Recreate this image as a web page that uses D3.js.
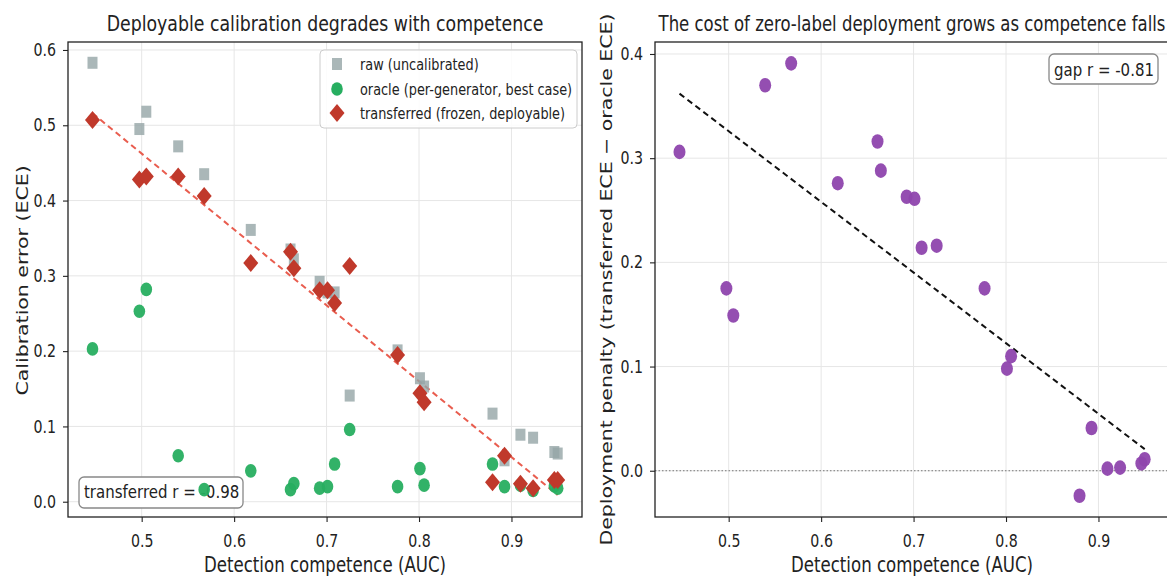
<!DOCTYPE html>
<html>
<head>
<meta charset="utf-8">
<script src="https://cdn.jsdelivr.net/npm/d3@7"></script>
<style>
  body { margin: 0; background: #fff; }
  svg { display: block; }
  text { font-family: "DejaVu Sans", sans-serif; fill: #222; }
</style>
</head>
<body>
<svg id="chart" width="1167" height="576"></svg>
<script>
"use strict";

// detection competence (AUC) per generator
const auc = [0.4468, 0.4975, 0.505, 0.5395, 0.5676, 0.618, 0.661, 0.6646, 0.6925, 0.701, 0.7087,
  0.725, 0.7768, 0.801, 0.8055, 0.8795, 0.8925, 0.9097, 0.9234, 0.9464, 0.950];
const rawEce = [0.583, 0.495, 0.518, 0.472, 0.435, 0.361, 0.335, 0.322, 0.292, 0.278, 0.278,
  0.141, 0.201, 0.164, 0.153, 0.117, 0.055, 0.089, 0.085, 0.066, 0.064];
const oracleEce = [0.203, 0.253, 0.282, 0.061, 0.016, 0.041, 0.016, 0.024, 0.018, 0.020, 0.050,
  0.096, 0.020, 0.044, 0.022, 0.050, 0.020, 0.022, 0.015, 0.021, 0.018];
const transferredEce = [0.507, 0.428, 0.432, 0.432, 0.406, 0.317, 0.332, 0.310, 0.281, 0.281, 0.264,
  0.313, 0.195, 0.144, 0.132, 0.026, 0.061, 0.024, 0.018, 0.029, 0.029];
const gap = [0.306, 0.175, 0.149, 0.370, 0.391, 0.276, 0.316, 0.288, 0.263, 0.261, 0.214,
  0.216, 0.175, 0.098, 0.110, -0.024, 0.041, 0.002, 0.003, 0.007, 0.011];

const xTicks = [0.5, 0.6, 0.7, 0.8, 0.9];
const yTicksL = [0.0, 0.1, 0.2, 0.3, 0.4, 0.5, 0.6];
const yTicksR = [0.0, 0.1, 0.2, 0.3, 0.4];
const legendLabels = ["raw (uncalibrated)", "oracle (per-generator, best case)", "transferred (frozen, deployable)"];

const C = { raw: "#95a5a6", oracle: "#27ae60", transferred: "#c0392b", fitL: "#e74c3c", gap: "#8e44ad" };
const SX = 0.81; // the picture is squeezed sideways, text too

const svg = d3.select("#chart");

function fit(xs, ys) {
  const mx = d3.mean(xs), my = d3.mean(ys);
  let sxy = 0, sxx = 0;
  xs.forEach((x, i) => { sxy += (x - mx) * (ys[i] - my); sxx += (x - mx) * (x - mx); });
  const b = sxy / sxx;
  return { b: b, a: my - b * mx };
}

function label(parent, x, y, s, size, anchor, vertical) {
  const t = `translate(${x},${y}) scale(${SX},1)` + (vertical ? " rotate(-90)" : "");
  return parent.append("text").attr("transform", t)
    .attr("text-anchor", anchor || "start").style("font-size", size + "px").text(s);
}

function panel(box, yDomain, yTicks) {
  const x = d3.scaleLinear().domain([0.4203, 0.9763]).range([box.x0, box.x1]);
  const y = d3.scaleLinear().domain(yDomain).range([box.y1, box.y0]);
  const g = svg.append("g");

  // grid
  g.append("g").selectAll("line").data(xTicks).join("line")
    .attr("x1", d => x(d)).attr("x2", d => x(d))
    .attr("y1", box.y0).attr("y2", box.y1)
    .attr("stroke", "#e6e6e6").attr("stroke-width", 1);
  g.append("g").selectAll("line").data(yTicks).join("line")
    .attr("x1", box.x0).attr("x2", box.x1)
    .attr("y1", d => y(d)).attr("y2", d => y(d))
    .attr("stroke", "#e6e6e6").attr("stroke-width", 1);

  const xAxis = g.append("g").attr("transform", `translate(0,${box.y1})`)
    .call(d3.axisBottom(x).tickValues(xTicks).tickFormat(d3.format(".1f")).tickSize(5));
  const yAxis = g.append("g").attr("transform", `translate(${box.x0},0)`)
    .call(d3.axisLeft(y).tickValues(yTicks).tickFormat(d3.format(".1f")).tickSize(5));
  [xAxis, yAxis].forEach(a => {
    a.select(".domain").remove();
    a.selectAll("text").style("font-size", "17.5px").attr("fill", "#222");
    a.selectAll("line").attr("stroke", "#222").attr("stroke-width", 1.1);
  });
  xAxis.selectAll("text").attr("y", 30).attr("dy", null).attr("transform", `scale(${SX},1)`);
  yAxis.selectAll("text").attr("x", -12 / SX).attr("transform", `scale(${SX},1)`);
  return { x: x, y: y, g: g };
}

function frame(g, box) {
  g.append("rect").attr("x", box.x0).attr("y", box.y0)
    .attr("width", box.x1 - box.x0).attr("height", box.y1 - box.y0)
    .attr("fill", "none").attr("stroke", "#222").attr("stroke-width", 1.3);
}

function diamond(cx, cy) {
  return `M${cx},${cy - 9}L${cx + 7.5},${cy}L${cx},${cy + 9}L${cx - 7.5},${cy}Z`;
}

// ---------- left panel
const boxL = { x0: 68, x1: 582, y0: 42, y1: 517 };
const L = panel(boxL, [-0.0203, 0.6106], yTicksL);

// annotation box sits under the points
L.g.append("rect").attr("x", 79).attr("y", 477).attr("width", 164).attr("height", 31)
  .attr("rx", 5).attr("fill", "#fff").attr("stroke", "#888").attr("stroke-width", 1.3);
label(L.g, 84, 498, "transferred r = -0.98", 18.5);

const fl = fit(auc, transferredEce);
const xr = d3.extent(auc);
L.g.append("line")
  .attr("x1", L.x(xr[0])).attr("y1", L.y(fl.a + fl.b * xr[0]))
  .attr("x2", L.x(xr[1])).attr("y2", L.y(fl.a + fl.b * xr[1]))
  .attr("stroke", C.fitL).attr("stroke-width", 2).attr("stroke-dasharray", "6,4").attr("opacity", 0.9);

L.g.append("g").selectAll("rect").data(auc).join("rect")
  .attr("x", (d) => L.x(d) - 5).attr("y", (d, i) => L.y(rawEce[i]) - 6)
  .attr("width", 10).attr("height", 12)
  .attr("fill", C.raw).attr("opacity", 0.8);
L.g.append("g").selectAll("ellipse").data(auc).join("ellipse")
  .attr("cx", d => L.x(d)).attr("cy", (d, i) => L.y(oracleEce[i]))
  .attr("rx", 5.8).attr("ry", 6.8)
  .attr("fill", C.oracle).attr("opacity", 0.95);
L.g.append("g").selectAll("path").data(auc).join("path")
  .attr("d", (d, i) => diamond(L.x(d), L.y(transferredEce[i])))
  .attr("fill", C.transferred);

frame(L.g, boxL);

// legend
const lg = L.g.append("g");
lg.append("rect").attr("x", 320).attr("y", 50).attr("width", 257).attr("height", 78)
  .attr("rx", 4).attr("fill", "#fff").attr("fill-opacity", 0.85).attr("stroke", "#ccc");
const rowY = [64, 89, 113];
lg.append("rect").attr("x", 332).attr("y", rowY[0] - 6).attr("width", 10).attr("height", 12)
  .attr("fill", C.raw).attr("opacity", 0.8);
lg.append("ellipse").attr("cx", 337).attr("cy", rowY[1]).attr("rx", 5.8).attr("ry", 6.8).attr("fill", C.oracle);
lg.append("path").attr("d", diamond(337, rowY[2])).attr("fill", C.transferred);
legendLabels.forEach((s, i) => label(lg, 360, rowY[i] + 6, s, 15.9));

const cxL = (boxL.x0 + boxL.x1) / 2;
label(svg, cxL, 31, "Deployable calibration degrades with competence", 21.4, "middle");
label(svg, cxL, 572, "Detection competence (AUC)", 20.5, "middle");
label(svg, 28, (boxL.y0 + boxL.y1) / 2 + 1, "Calibration error (ECE)", 20.5, "middle", true);

// ---------- right panel
const boxR = { x0: 655, x1: 1169, y0: 42, y1: 517 };
const R = panel(boxR, [-0.0444, 0.4115], yTicksR);

R.g.append("line").attr("x1", boxR.x0).attr("x2", boxR.x1)
  .attr("y1", R.y(0)).attr("y2", R.y(0))
  .attr("stroke", "#777").attr("stroke-width", 1).attr("stroke-dasharray", "1.5,2");

const fr = fit(auc, gap);
R.g.append("line")
  .attr("x1", R.x(xr[0])).attr("y1", R.y(fr.a + fr.b * xr[0]))
  .attr("x2", R.x(xr[1])).attr("y2", R.y(fr.a + fr.b * xr[1]))
  .attr("stroke", "#111").attr("stroke-width", 2).attr("stroke-dasharray", "6,4");

R.g.append("g").selectAll("ellipse").data(auc).join("ellipse")
  .attr("cx", d => R.x(d)).attr("cy", (d, i) => R.y(gap[i]))
  .attr("rx", 6).attr("ry", 7.3)
  .attr("fill", C.gap).attr("opacity", 0.95);

frame(R.g, boxR);

R.g.append("rect").attr("x", 1049).attr("y", 54).attr("width", 109).attr("height", 30)
  .attr("rx", 5).attr("fill", "#fff").attr("stroke", "#888").attr("stroke-width", 1.3);
label(R.g, 1054, 76, "gap r = -0.81", 18.5);

const cxR = (boxR.x0 + boxR.x1) / 2;
label(svg, cxR, 31, "The cost of zero-label deployment grows as competence falls", 20.4, "middle");
label(svg, cxR, 572, "Detection competence (AUC)", 20.5, "middle");
label(svg, 612, (boxR.y0 + boxR.y1) / 2, "Deployment penalty (transferred ECE \u2212 oracle ECE)", 20.5, "middle", true);
</script>
</body>
</html>
